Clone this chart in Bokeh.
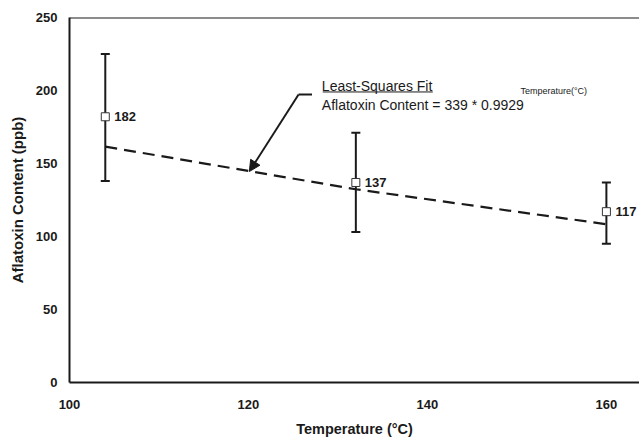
import numpy as np
from bokeh.plotting import figure
from bokeh.models import (ColumnDataSource, Whisker, Span, Label, Arrow,
                          NormalHead, TeeHead, FixedTicker, LabelSet)
from bokeh.core.properties import value
from bokeh.embed import file_html
from bokeh.resources import INLINE

# ---- data ----
temperature = [104, 132, 160]
aflatoxin = [182, 137, 117]
err_upper = [225, 171, 137]
err_lower = [138, 103, 95]
point_labels = ["182", "137", "117"]

# least-squares fit parameters (from the annotation)
fit_a = 339
fit_b = 0.9929

x_ticks = [100, 120, 140, 160]
y_ticks = [0, 50, 100, 150, 200, 250]

FONT = "Liberation Sans"
INK = "#1a1a1a"

src = ColumnDataSource(dict(x=temperature, y=aflatoxin, up=err_upper,
                            lo=err_lower, lab=point_labels))
fit_x = np.array(temperature, dtype=float)
fit_src = ColumnDataSource(dict(x=fit_x, y=fit_a * fit_b ** fit_x))

p = figure(frame_width=570, frame_height=365, output_backend="svg",
           toolbar_location=None,
           x_range=(100, 163.7), y_range=(0, 250),
           min_border_left=69, min_border_right=0, min_border_top=17,
           min_border_bottom=40)
p.outline_line_color = None
p.grid.visible = False
p.background_fill_color = "white"

# axes
for ax in (p.xaxis[0], p.yaxis[0]):
    ax.axis_line_color = INK
    ax.axis_line_width = 2
    ax.major_tick_line_color = None
    ax.minor_tick_line_color = None
    ax.major_tick_out = 0
    ax.major_tick_in = 0
    ax.minor_tick_out = 0
    ax.major_label_text_font = FONT
    ax.major_label_text_font_style = "bold"
    ax.major_label_text_font_size = "13px"
    ax.major_label_text_color = INK
    ax.axis_label_text_font = FONT
    ax.axis_label_text_font_style = "bold"
    ax.axis_label_text_color = INK

p.xaxis.ticker = FixedTicker(ticks=x_ticks)
p.yaxis.ticker = FixedTicker(ticks=y_ticks)
p.xaxis.axis_label = "Temperature (°C)"
p.yaxis.axis_label = "Aflatoxin Content (ppb)"
p.xaxis.axis_label_text_font_size = "14.5px"
p.yaxis.axis_label_text_font_size = "15px"
p.xaxis.major_label_standoff = 17
p.yaxis.major_label_standoff = 12
p.xaxis.axis_label_standoff = 9
p.yaxis.axis_label_standoff = 7

# top frame line
p.add_layout(Span(location=250, dimension="width", line_color=INK, line_width=2))

# fit line
p.line("x", "y", source=fit_src, line_color=INK, line_width=2.2, line_dash="12 7")

# error bars
p.add_layout(Whisker(source=src, base="x", upper="up", lower="lo",
                     line_color=INK, line_width=2,
                     upper_head=TeeHead(size=9, line_color=INK, line_width=2),
                     lower_head=TeeHead(size=9, line_color=INK, line_width=2)))

# points
p.scatter("x", "y", source=src, marker="square", size=8, fill_color="white",
          line_color="#333333", line_width=1)

# point labels
p.add_layout(LabelSet(x="x", y="y", text="lab", source=src, x_offset=9, y_offset=0,
                      text_baseline="middle", text_font=value(FONT),
                      text_font_style="bold", text_font_size="13px",
                      text_color=INK))

# annotation: arrow and equation text (positions in data units)
arrow_start = (127.1, 197.3)
arrow_elbow = (125.6, 197.3)
arrow_tip = (120.1, 144.5)
p.line([arrow_start[0], arrow_elbow[0]], [arrow_start[1], arrow_elbow[1]],
       line_color=INK, line_width=2)
p.add_layout(Arrow(x_start=arrow_elbow[0], y_start=arrow_elbow[1],
                   x_end=arrow_tip[0], y_end=arrow_tip[1],
                   line_color=INK, line_width=2,
                   end=NormalHead(size=11, fill_color=INK, line_color=INK)))

p.add_layout(Label(x=128.2, y=203.4, text="Least-Squares Fit", text_font=FONT,
                   text_font_size="14px", text_color=INK, text_baseline="middle"))
p.line([128.3, 140.6], [199.0, 199.0], line_color=INK, line_width=1)
p.add_layout(Label(x=128.2, y=190.1, text="Aflatoxin Content = 339 * 0.9929",
                   text_font=FONT, text_font_size="14px", text_color=INK,
                   text_baseline="middle"))
p.add_layout(Label(x=150.4, y=199.8, text="Temperature(°C)", text_font=FONT,
                   text_font_size="9px", text_color=INK, text_baseline="middle"))

html = file_html(p, INLINE)
html = html.replace("</head>", "<style>html,body{overflow:hidden;}</style></head>", 1)
open("out.html", "w").write(html)
